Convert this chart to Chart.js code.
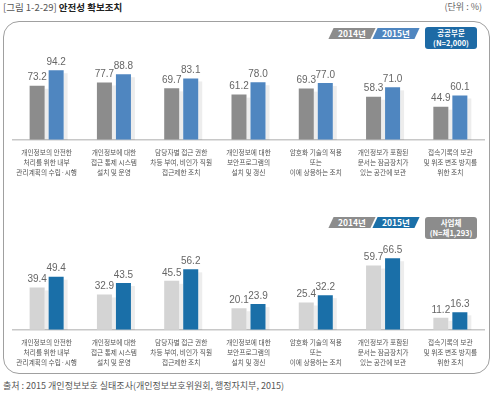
<!DOCTYPE html>
<html>
<head>
<meta charset="utf-8">
<script src="https://cdn.jsdelivr.net/npm/chart.js@4/dist/chart.umd.min.js"></script>
<style>
  body { margin: 0; background: #fff; font-family: "Noto Sans CJK KR", "Noto Sans", sans-serif; }
  #wrap { position: relative; width: 500px; height: 395px; overflow: hidden; }
  .title { position: absolute; left: 3px; top: 0px; font-size: 9.5px; color: #555; }
  .title b { color: #222; }
  .unit { position: absolute; right: 18px; top: 0px; font-size: 9px; color: #666; }
  .frame { position: absolute; left: 3px; top: 21px; width: 487px; height: 353px; border: 1.5px solid #a0a0a0; border-radius: 16px; box-sizing: border-box; }
  .src { position: absolute; left: 3px; top: 379px; font-size: 9px; color: #555; }
  .tag { position: absolute; width: 42px; height: 11px; transform: skewX(-25deg); color: #fff; font-size: 8.5px; font-weight: bold; text-align: center; line-height: 11px; }
  .tag span { display: inline-block; transform: skewX(25deg); }
  .box { position: absolute; left: 425px; width: 52px; height: 22px; border-radius: 3px; color: #fff; font-size: 7.5px; font-weight: bold; text-align: center; line-height: 10px; padding-top: 1px; box-sizing: border-box; }
  canvas { position: absolute; left: 0; }
</style>
</head>
<body>
<div id="wrap">
  <div class="title">[그림 1-2-29] <b>안전성 확보조치</b></div>
  <div class="unit">(단위 : %)</div>
  <div class="frame"></div>

  <div class="tag" style="left:331px; top:28px; background:#8c8c8c;"><span>2014년</span></div>
  <div class="tag" style="left:375px; top:28px; background:#4f86c0;"><span>2015년</span></div>
  <div class="box" style="top:27px; background:#1d6aa5;">공공부문<br>(N=2,000)</div>

  <div class="tag" style="left:331px; top:217px; background:#8c8c8c;"><span>2014년</span></div>
  <div class="tag" style="left:375px; top:217px; background:#1a6fa8;"><span>2015년</span></div>
  <div class="box" style="top:217px; background:#8c8c8c;">사업체<br>(N=체1,293)</div>

  <canvas id="top" width="500" height="145" style="top:40px; width:500px; height:145px;"></canvas>
  <canvas id="bottom" width="500" height="145" style="top:230px; width:500px; height:145px;"></canvas>

  <div class="src">출처 : 2015 개인정보보호 실태조사(개인정보보호위원회, 행정자치부, 2015)</div>
</div>
<script>
const categories = [
  ['개인정보의 안전한', '처리를 위한 내부', '관리계획의 수립·시행'],
  ['개인정보에 대한', '접근 통제 시스템', '설치 및 운영'],
  ['담당자별 접근 권한', '차등 부여, 비인가 직원', '접근제한 조치'],
  ['개인정보에 대한', '보안프로그램의', '설치 및 갱신'],
  ['암호화 기술의 적용', '또는', '이에 상응하는 조치'],
  ['개인정보가 포함된', '문서는 잠금장치가', '있는 공간에 보관'],
  ['접속기록의 보관', '및 위조 변조 방지를', '위한 조치']
];
const public2014 = [73.2, 77.7, 69.7, 61.2, 69.3, 58.3, 44.9];
const public2015 = [94.2, 88.8, 83.1, 78.0, 77.0, 71.0, 60.1];
const business2014 = [39.4, 32.9, 45.5, 20.1, 25.4, 59.7, 11.2];
const business2015 = [49.4, 43.5, 56.2, 23.9, 32.2, 66.5, 16.3];

// bar shadow + value labels
const barExtras = {
  id: 'barExtras',
  beforeDatasetsDraw(chart) {
    const ctx = chart.ctx;
    ctx.save();
    ctx.fillStyle = 'rgba(0,0,0,0.07)';
    chart.data.datasets.forEach((ds, i) => {
      chart.getDatasetMeta(i).data.forEach(bar => {
        ctx.fillRect(bar.x + bar.width / 2, bar.y + 3, 4, bar.base - bar.y - 3);
      });
    });
    ctx.restore();
  },
  afterDatasetsDraw(chart) {
    const ctx = chart.ctx;
    ctx.save();
    ctx.font = '10px "Liberation Sans", Arial, sans-serif';
    ctx.fillStyle = '#666';
    ctx.textAlign = 'center';
    ctx.textBaseline = 'bottom';
    chart.data.datasets.forEach((ds, i) => {
      chart.getDatasetMeta(i).data.forEach((bar, j) => {
        ctx.fillText(ds.data[j].toFixed(1), bar.x, bar.y - 3);
      });
    });
    ctx.restore();
  }
};

function makeChart(id, a, b, colA, colB, max, padTop) {
  return new Chart(document.getElementById(id), {
    type: 'bar',
    data: {
      labels: categories,
      datasets: [
        { label: '2014년', data: a, backgroundColor: colA, categoryPercentage: 0.565, barPercentage: 0.79 },
        { label: '2015년', data: b, backgroundColor: colB, categoryPercentage: 0.565, barPercentage: 0.79 }
      ]
    },
    options: {
      responsive: false,
      animation: false,
      layout: { padding: { left: 13, right: 16, top: padTop, bottom: 0 } },
      plugins: { legend: { display: false }, tooltip: { enabled: false } },
      scales: {
        y: { display: false, min: 0, max: max },
        x: {
          grid: { display: false, drawTicks: false },
          border: { color: '#c8c8c8', width: 1.5 },
          ticks: {
            color: '#555',
            padding: 8,
            maxRotation: 0,
            minRotation: 0,
            autoSkip: false,
            font: { family: '"Noto Sans CJK KR", sans-serif', size: 6.7, lineHeight: 1.45 }
          }
        }
      }
    },
    plugins: [barExtras]
  });
}

makeChart('top', public2014, public2015, '#8c8c8c', '#4f86c0', 108, 20);
makeChart('bottom', business2014, business2015, '#d4d4d4', '#1a6fa8', 83.4, 10);
</script>
</body>
</html>
